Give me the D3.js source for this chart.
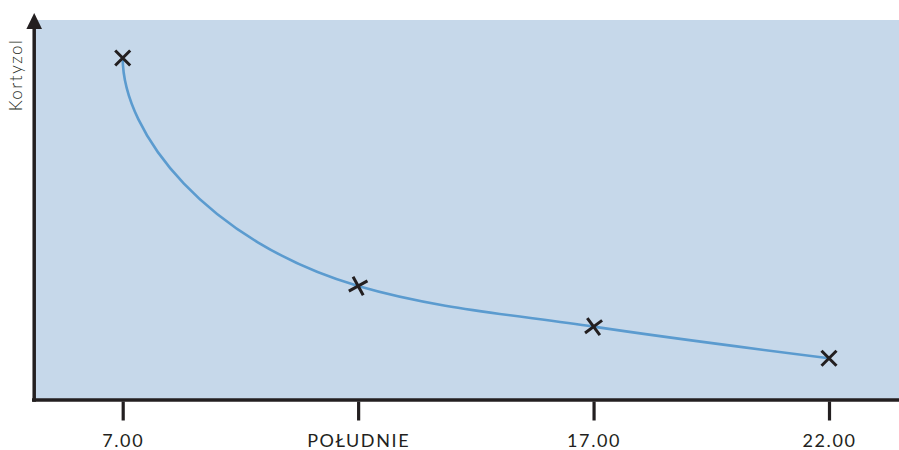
<!DOCTYPE html>
<html>
<head>
<meta charset="utf-8">
<script src="https://cdn.jsdelivr.net/npm/d3@7"></script>
<style>
  html, body { margin: 0; padding: 0; background: #ffffff; }
  svg { display: block; }
</style>
</head>
<body>
<svg id="chart" width="899" height="450"></svg>
<script>
// ---- data ----
const categories = ["7.00", "POŁUDNIE", "17.00", "22.00"];
const cortisol = [90, 30, 19.3, 11];
const yAxisLabel = "Kortyzol";

// ---- layout ----
const W = 899, H = 450;
const plotLeft = 35, plotTop = 20, plotBottom = 400;
const svg = d3.select("#chart");

const x = d3.scalePoint().domain(categories).range([122.7, 829]).padding(0);
const y = d3.scaleLinear().domain([0, 100]).range([plotBottom, plotTop]);

// background
svg.append("rect")
  .attr("x", plotLeft).attr("y", plotTop)
  .attr("width", W - plotLeft).attr("height", plotBottom - plotTop)
  .attr("fill", "#c6d8ea");

const data = categories.map((c, i) => ({ c, v: cortisol[i] }));

// custom smooth curve: vertical start, harmonic-mean tangents elsewhere
function designCurve(context) {
  return {
    areaStart() {}, areaEnd() {},
    lineStart() { this._p = []; },
    point(px, py) { this._p.push([+px, +py]); },
    lineEnd() {
      const p = this._p, n = p.length;
      if (!n) return;
      context.moveTo(p[0][0], p[0][1]);
      if (n === 1) return;
      const s = [];
      for (let i = 0; i < n - 1; i++) s.push((p[i+1][1] - p[i][1]) / (p[i+1][0] - p[i][0]));
      const m = new Array(n).fill(0);
      for (let i = 1; i < n - 1; i++) {
        m[i] = s[i-1] * s[i] > 0 ? 2 * s[i-1] * s[i] / (s[i-1] + s[i]) : 0;
      }
      m[n-1] = n > 2 ? (3 * s[n-2] - m[n-2]) / 2 : s[0];
      for (let i = 0; i < n - 1; i++) {
        const [x0, y0] = p[i], [x1, y1] = p[i+1], dx = x1 - x0;
        if (i === 0) {
          context.bezierCurveTo(x0, y0 + 0.33 * (y1 - y0),
            x1 - 0.64 * dx, y1 - 0.64 * dx * m[1],
            x1, y1);
        } else {
          context.bezierCurveTo(x0 + dx / 3, y0 + dx / 3 * m[i],
            x1 - dx / 3, y1 - dx / 3 * m[i+1],
            x1, y1);
        }
      }
    }
  };
}

const line = d3.line().x(d => x(d.c)).y(d => y(d.v)).curve(designCurve);

svg.append("path")
  .datum(data)
  .attr("d", line)
  .attr("fill", "none")
  .attr("stroke", "#5b9bcf")
  .attr("stroke-width", 2.6);

// markers rotated with local slope
const slopes = data.slice(0, -1).map((d, i) =>
  (y(data[i+1].v) - y(d.v)) / (x(data[i+1].c) - x(d.c)));
function angleAt(i) {
  if (i === 0 || i === data.length - 1) return 0;
  const a = slopes[i-1], b = slopes[i];
  const m = 2 * a * b / (a + b);
  return Math.atan(m) * 180 / Math.PI;
}
const r = 7.5;
const mk = svg.append("g").selectAll("g").data(data).join("g")
  .attr("transform", (d, i) => `translate(${x(d.c)},${y(d.v)}) rotate(${angleAt(i)})`);
mk.append("path")
  .attr("d", `M${-r},${-r}L${r},${r}M${-r},${r}L${r},${-r}`)
  .attr("stroke", "#231f20")
  .attr("stroke-width", 3)
  .attr("fill", "none");

// x axis
const xAxis = d3.axisBottom(x).tickSize(19).tickPadding(14);
const gx = svg.append("g")
  .attr("transform", `translate(0,${plotBottom + 1.5})`)
  .call(xAxis);
gx.select(".domain").remove();
gx.selectAll(".tick line").attr("stroke", "#231f20").attr("stroke-width", 3.2);
gx.selectAll(".tick text")
  .attr("fill", "#231f20")
  .style("font-family", "Lato, 'Open Sans', sans-serif")
  .style("font-size", "18px")
  .style("letter-spacing", "1.6px");

// axis lines
svg.append("line")
  .attr("x1", 32).attr("x2", W)
  .attr("y1", plotBottom).attr("y2", plotBottom)
  .attr("stroke", "#231f20").attr("stroke-width", 3.5);
svg.append("line")
  .attr("x1", 34.2).attr("x2", 34.2)
  .attr("y1", plotBottom + 1.7).attr("y2", 26)
  .attr("stroke", "#231f20").attr("stroke-width", 3.5);
svg.append("path")
  .attr("d", d3.line()([[34.2, 13], [42, 29], [26.4, 29]]) + "Z")
  .attr("fill", "#231f20");

// y label
svg.append("text")
  .attr("transform", "translate(22,75) rotate(-90)")
  .attr("text-anchor", "middle")
  .attr("fill", "#231f20")
  .style("font-family", "Lato, 'Open Sans', sans-serif")
  .style("font-weight", "300")
  .style("font-size", "17px")
  .style("letter-spacing", "1.5px")
  .text(yAxisLabel);
</script>
</body>
</html>
